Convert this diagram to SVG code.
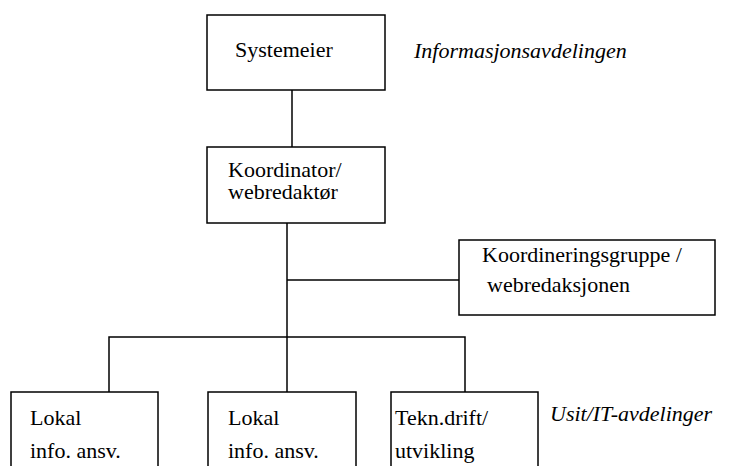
<svg xmlns="http://www.w3.org/2000/svg" width="745" height="466" viewBox="0 0 745 466">
  <style>
    .box { fill: #ffffff; stroke: #000000; stroke-width: 1.5; }
    .link { fill: none; stroke: #000000; stroke-width: 1.5; }
  </style>
  <rect x="0" y="0" width="745" height="466" fill="#ffffff"/>

  <!-- connectors -->
  <g id="connectors">
    <line class="link" x1="292" y1="90" x2="292" y2="147"/>
    <line class="link" x1="287" y1="223" x2="287" y2="392"/>
    <line class="link" x1="287" y1="280" x2="459" y2="280"/>
    <polyline class="link" points="109,392 109,337 465,337 465,392"/>
  </g>

  <g font-family="'Liberation Serif', 'Times New Roman', serif" font-size="22" fill="#000000">
    <g id="systemeier">
      <rect class="box" x="207" y="15" width="178" height="75"/>
      <text x="235" y="57">Systemeier</text>
    </g>

    <g id="koordinator">
      <rect class="box" x="207" y="147" width="178" height="76"/>
      <text x="228" y="177">Koordinator/</text>
      <text x="228" y="199">webredaktør</text>
    </g>

    <g id="koordineringsgruppe">
      <rect class="box" x="459" y="240" width="256" height="75"/>
      <text x="482" y="262">Koordineringsgruppe /</text>
      <text x="487" y="292">webredaksjonen</text>
    </g>

    <g id="lokal-1">
      <rect class="box" x="11" y="392" width="147" height="90"/>
      <text x="30" y="425">Lokal</text>
      <text x="30" y="458">info. ansv.</text>
    </g>

    <g id="lokal-2">
      <rect class="box" x="208" y="392" width="148" height="90"/>
      <text x="228" y="425">Lokal</text>
      <text x="228" y="458">info. ansv.</text>
    </g>

    <g id="tekn-drift">
      <rect class="box" x="391" y="392" width="147" height="90"/>
      <text x="395" y="425">Tekn.drift/</text>
      <text x="395" y="458">utvikling</text>
    </g>

    <!-- side labels -->
    <text font-style="italic" x="414" y="58">Informasjonsavdelingen</text>
    <text font-style="italic" x="550" y="421">Usit/IT-avdelinger</text>
  </g>
</svg>
